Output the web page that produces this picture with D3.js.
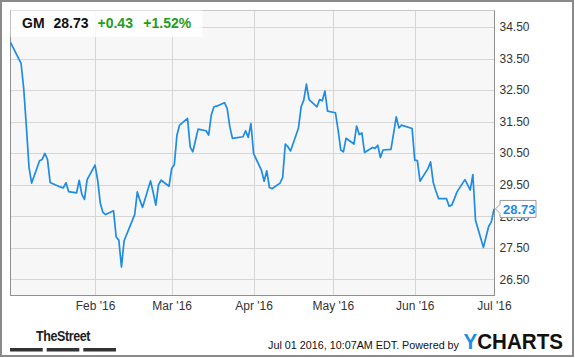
<!DOCTYPE html>
<html>
<head>
<meta charset="utf-8">
<script src="https://cdn.jsdelivr.net/npm/d3@7"></script>
<style>
  html, body { margin: 0; padding: 0; background: #fff; }
  svg { display: block; font-family: "Liberation Sans", Arial, sans-serif; }
</style>
</head>
<body>
<svg id="chart" width="575" height="358"></svg>
<script>
// ---- data ----
const dates = [
  "2015-12-31","2016-01-04","2016-01-05","2016-01-06","2016-01-07","2016-01-08",
  "2016-01-11","2016-01-12","2016-01-13","2016-01-14","2016-01-15",
  "2016-01-19","2016-01-20","2016-01-21","2016-01-22",
  "2016-01-25","2016-01-26","2016-01-27","2016-01-28","2016-01-29",
  "2016-02-01","2016-02-02","2016-02-03","2016-02-04","2016-02-05",
  "2016-02-08","2016-02-09","2016-02-10","2016-02-11","2016-02-12",
  "2016-02-16","2016-02-17","2016-02-18","2016-02-19",
  "2016-02-22","2016-02-23","2016-02-24","2016-02-25","2016-02-26",
  "2016-02-29","2016-03-01","2016-03-02","2016-03-03","2016-03-04",
  "2016-03-07","2016-03-08","2016-03-09","2016-03-10","2016-03-11",
  "2016-03-14","2016-03-15","2016-03-16","2016-03-17","2016-03-18",
  "2016-03-21","2016-03-22","2016-03-23","2016-03-24",
  "2016-03-28","2016-03-29","2016-03-30","2016-03-31","2016-04-01",
  "2016-04-04","2016-04-05","2016-04-06","2016-04-07","2016-04-08",
  "2016-04-11","2016-04-12","2016-04-13","2016-04-14","2016-04-15",
  "2016-04-18","2016-04-19","2016-04-20","2016-04-21","2016-04-22",
  "2016-04-25","2016-04-26","2016-04-27","2016-04-28","2016-04-29",
  "2016-05-02","2016-05-03","2016-05-04","2016-05-05","2016-05-06",
  "2016-05-09","2016-05-10","2016-05-11","2016-05-12","2016-05-13",
  "2016-05-16","2016-05-17","2016-05-18","2016-05-19","2016-05-20",
  "2016-05-23","2016-05-24","2016-05-25","2016-05-26","2016-05-27",
  "2016-05-31","2016-06-01","2016-06-02","2016-06-03",
  "2016-06-06","2016-06-07","2016-06-08","2016-06-09","2016-06-10",
  "2016-06-13","2016-06-14","2016-06-15","2016-06-16","2016-06-17",
  "2016-06-20","2016-06-21","2016-06-22","2016-06-23","2016-06-24",
  "2016-06-27","2016-06-28","2016-06-29","2016-06-30","2016-07-01"
];
const prices = [
  34.01,33.35,32.55,31.35,30.05,29.55,
  30.26,30.30,30.49,30.30,29.57,
  29.42,29.40,29.56,29.28,
  29.24,29.64,29.19,29.03,29.66,
  30.12,29.64,28.90,28.62,28.55,
  28.67,27.84,27.74,26.89,27.72,
  28.55,29.27,29.00,28.78,
  29.62,29.25,28.85,29.49,29.64,
  29.45,30.01,30.13,31.07,31.39,
  31.60,30.70,30.54,30.90,31.26,
  31.21,31.07,31.71,31.97,31.99,
  32.10,31.92,31.34,30.97,
  31.02,31.21,31.00,31.44,30.49,
  29.95,29.61,29.94,29.41,29.37,
  29.55,29.72,30.79,30.70,30.57,
  31.30,31.97,32.18,32.69,32.20,
  31.97,32.20,32.16,32.47,31.83,
  31.78,31.23,30.60,30.54,30.97,
  30.79,31.36,31.09,31.14,30.52,
  30.68,30.65,30.75,30.36,30.60,
  30.62,31.13,31.65,31.30,31.39,
  31.28,30.28,30.26,29.61,
  30.01,30.22,29.57,29.30,29.06,
  29.06,28.82,28.85,29.05,29.27,
  29.66,29.50,29.33,29.82,28.37,
  27.51,27.85,28.18,28.32,28.73
];
const xTickDates = ["2016-02-01","2016-03-01","2016-04-01","2016-05-01","2016-06-01","2016-07-01"];
const yTickValues = [26.5, 27.5, 28.5, 29.5, 30.5, 31.5, 32.5, 33.5, 34.5];
const ticker = "GM";
const lastPrice = "28.73";
const change = "+0.43";
const changePct = "+1.52%";
const timestamp = "Jul 01 2016, 10:07AM EDT.  Powered by";

// ---- setup ----
const parse = d3.utcParse("%Y-%m-%d");
const data = dates.map((d, i) => ({ date: parse(d), value: prices[i] }));
const svg = d3.select("#chart");
const L = 10.5, R = 494.5, T = 10.5, B = 295;
const lineColor = "#1e8ce3";

const x = d3.scaleUtc().domain([parse("2015-12-31"), parse("2016-07-01")]).range([L, R - 0.5]);
const y = d3.scaleLinear().domain([26, 35.04]).range([B, T - 0.5]);

// outer border
svg.append("rect").attr("x", 1).attr("y", 1).attr("width", 572).attr("height", 355)
  .attr("fill", "#fff").attr("stroke", "#8a8a8a").attr("stroke-width", 2);

// plot background
svg.append("rect").attr("x", L).attr("y", T).attr("width", R - L).attr("height", B - T)
  .attr("fill", "#f7f7f7");

// gridlines
svg.append("g").selectAll("line").data(yTickValues).join("line")
  .attr("x1", L).attr("x2", R)
  .attr("y1", d => Math.round(y(d)) + 0.5).attr("y2", d => Math.round(y(d)) + 0.5)
  .attr("stroke", "#d6d6d6").attr("stroke-width", 1);
const xTicks = xTickDates.map(parse);
svg.append("g").selectAll("line").data(xTicks).join("line")
  .attr("x1", d => Math.round(x(d)) + 0.5).attr("x2", d => Math.round(x(d)) + 0.5)
  .attr("y1", T).attr("y2", B)
  .attr("stroke", "#d6d6d6").attr("stroke-width", 1);

// plot borders
svg.append("line").attr("x1", L).attr("x2", R).attr("y1", T).attr("y2", T).attr("stroke", "#c8c8c8");
svg.append("line").attr("x1", L).attr("x2", L).attr("y1", T).attr("y2", B).attr("stroke", "#8f8f8f");
svg.append("line").attr("x1", R).attr("x2", R).attr("y1", T).attr("y2", B).attr("stroke", "#8f8f8f");
svg.append("line").attr("x1", L - 0.5).attr("x2", R + 0.5).attr("y1", B + 0.5).attr("y2", B + 0.5).attr("stroke", "#8f8f8f");

// price line
svg.append("path").datum(data)
  .attr("fill", "none").attr("stroke", lineColor).attr("stroke-width", 1.7)
  .attr("stroke-linejoin", "round")
  .attr("d", d3.line().x(d => x(d.date)).y(d => y(d.value)));

// y axis (right)
const yAxis = svg.append("g").attr("transform", `translate(${R},0)`)
  .call(d3.axisRight(y).tickValues(yTickValues).tickSize(0).tickPadding(5).tickFormat(d3.format(".2f")));
yAxis.select(".domain").remove();
yAxis.selectAll("text").attr("font-size", 12).attr("fill", "#333")
  .attr("font-family", "'Liberation Sans', Arial, sans-serif");

// x axis
const xAxis = svg.append("g").attr("transform", `translate(0,${B})`)
  .call(d3.axisBottom(x).tickValues(xTicks).tickSize(0).tickPadding(6.5).tickFormat(d3.utcFormat("%b '%y")));
xAxis.select(".domain").remove();
xAxis.selectAll("text").attr("font-size", 12).attr("fill", "#333")
  .attr("font-family", "'Liberation Sans', Arial, sans-serif");

// header box
svg.append("rect").attr("x", L).attr("y", T).attr("width", 192).attr("height", 26.5)
  .attr("fill", "#fff").attr("fill-opacity", 0.85);
const hdr = svg.append("g").attr("font-size", 14).attr("font-weight", "bold");
hdr.append("text").attr("x", 22).attr("y", 28.3).attr("fill", "#111").text(ticker);
hdr.append("text").attr("x", 53.5).attr("y", 28.3).attr("fill", "#111").text(lastPrice);
hdr.append("text").attr("x", 97.5).attr("y", 28.3).attr("fill", "#1f9e1f").text(change);
hdr.append("text").attr("x", 143.3).attr("y", 28.3).attr("fill", "#1f9e1f").text(changePct);

// last value flag
const last = data[data.length - 1];
const ly = y(last.value);
const bx = 500, bw = 36, bh = 17;
svg.append("path")
  .attr("d", `M${R + 1},${ly} L${bx},${ly - 4.5} L${bx},${ly - bh / 2} L${bx + bw},${ly - bh / 2} L${bx + bw},${ly + bh / 2} L${bx},${ly + bh / 2} L${bx},${ly + 4.5} Z`)
  .attr("fill", "#fff").attr("stroke", "#999").attr("stroke-width", 1);
svg.append("text").attr("x", bx + 3).attr("y", ly + 4.7)
  .attr("font-size", 13).attr("font-weight", "bold").attr("fill", lineColor)
  .text(d3.format(".2f")(last.value));

// footer: TheStreet logo
svg.append("text").attr("x", 36).attr("y", 341).attr("font-size", 15).attr("font-weight", "bold")
  .attr("fill", "#222").attr("textLength", 54).attr("lengthAdjust", "spacingAndGlyphs")
  .attr("letter-spacing", "-0.5").text("TheStreet");
[[10, 42.7], [46.7, 79.3], [83.3, 116]].forEach(([a, b]) => {
  svg.append("rect").attr("x", a).attr("y", 348).attr("width", b - a).attr("height", 3.5).attr("fill", "#333");
});

// footer: timestamp
svg.append("text").attr("x", 268).attr("y", 349).attr("font-size", 11).attr("fill", "#111")
  .attr("textLength", 191).attr("lengthAdjust", "spacingAndGlyphs").text(timestamp);

// footer: YCHARTS logo (single text, two colours)
const yc = svg.append("text").attr("x", 463.5).attr("y", 349.3).attr("font-size", 22).attr("font-weight", "bold")
  .attr("textLength", 99.5).attr("lengthAdjust", "spacingAndGlyphs");
yc.append("tspan").attr("fill", "#1e8ce3").text("Y");
yc.append("tspan").attr("fill", "#111").text("CHARTS");
</script>
</body>
</html>
